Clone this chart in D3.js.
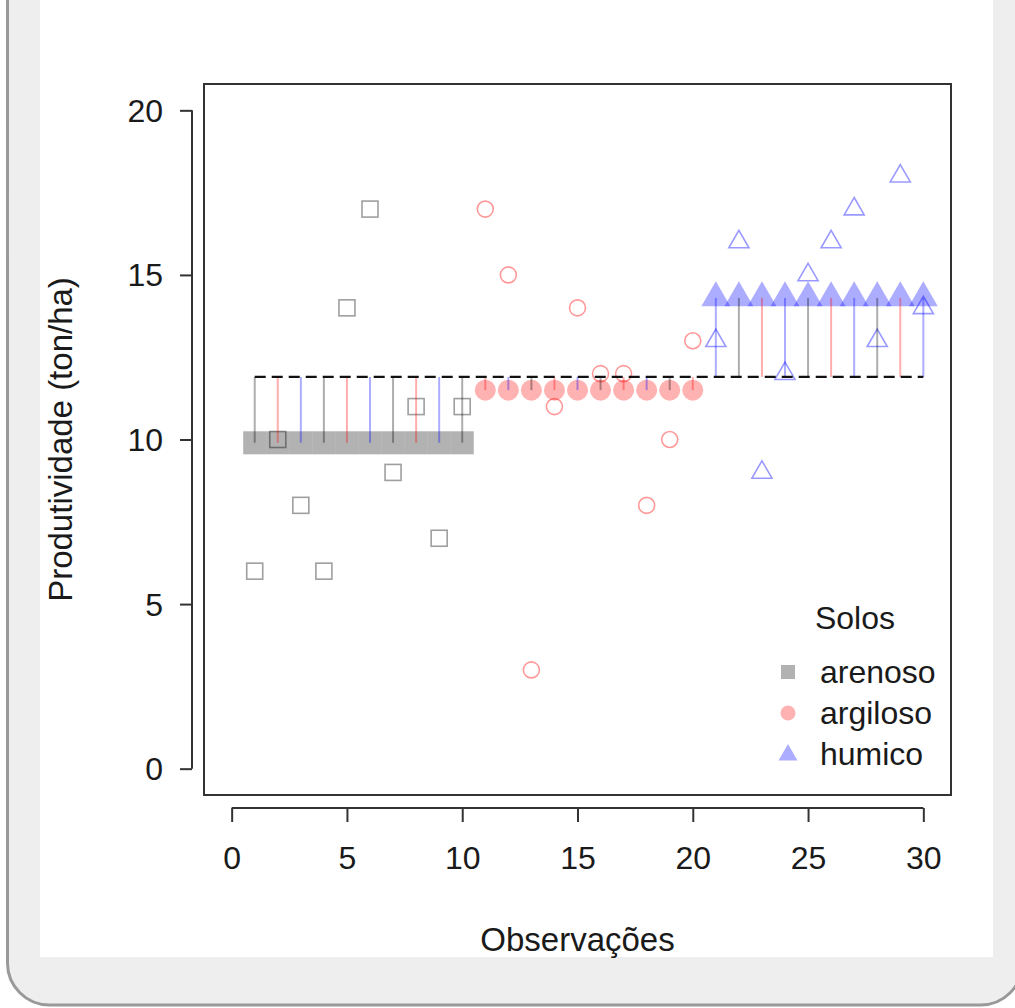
<!DOCTYPE html>
<html>
<head>
<meta charset="utf-8">
<script src="https://cdn.jsdelivr.net/npm/d3@7"></script>
<style>
  html, body { margin: 0; padding: 0; background: #ffffff; }
  svg { display: block; font-family: "Liberation Sans", Arial, Helvetica, sans-serif; }
</style>
</head>
<body>
<svg id="chart" width="1015" height="1008"></svg>
<script>
// ---- data ----
const groups = ["arenoso", "argiloso", "humico"];
const obsArenoso  = [1, 2, 3, 4, 5, 6, 7, 8, 9, 10];
const valArenoso  = [6, 10, 8, 6, 14, 17, 9, 11, 7, 11];
const obsArgiloso = [11, 12, 13, 14, 15, 16, 17, 18, 19, 20];
const valArgiloso = [17, 15, 3, 11, 14, 12, 12, 8, 10, 13];
const obsHumico   = [21, 22, 23, 24, 25, 26, 27, 28, 29, 30];
const valHumico   = [13, 16, 9, 12, 15, 16, 17, 13, 18, 14];
const xTicks = [0, 5, 10, 15, 20, 25, 30];
const yTicks = [0, 5, 10, 15, 20];
const segColors = ["rgba(0,0,0,0.32)", "rgba(255,0,0,0.32)", "rgba(0,0,255,0.32)"];
const fillColors = ["rgba(0,0,0,0.3)", "rgba(255,0,0,0.3)", "rgba(0,0,255,0.32)"];
const openColors = ["rgba(0,0,0,0.38)", "rgba(255,0,0,0.4)", "rgba(0,0,255,0.4)"];

const series = [
  { name: groups[0], obs: obsArenoso, val: valArenoso, shape: "square" },
  { name: groups[1], obs: obsArgiloso, val: valArgiloso, shape: "circle" },
  { name: groups[2], obs: obsHumico, val: valHumico, shape: "triangle" }
];
series.forEach(s => s.mean = d3.mean(s.val));
const allVals = series.flatMap(s => s.val);
const grandMean = d3.mean(allVals);

const svg = d3.select("#chart");

// ---- frame ----
svg.append("rect").attr("x", 7.5).attr("y", -60).attr("width", 1015).attr("height", 1065)
  .attr("rx", 42).attr("fill", "#eeeeee").attr("stroke", "#999").attr("stroke-width", 3);
svg.append("rect").attr("x", 40).attr("y", 0).attr("width", 953).attr("height", 957)
  .attr("fill", "#ffffff");

// ---- scales ----
const box = { left: 204, right: 951, top: 84, bottom: 795 };
const x = d3.scaleLinear().domain([-1.2, 31.2]).range([box.left, box.right]);
const y = d3.scaleLinear().domain([-0.8, 20.8]).range([box.bottom, box.top]);

// ---- box ----
svg.append("rect").attr("x", box.left).attr("y", box.top)
  .attr("width", box.right - box.left).attr("height", box.bottom - box.top)
  .attr("fill", "none").attr("stroke", "#333").attr("stroke-width", 2);

// ---- axes ----
const yAxis = svg.append("g").attr("transform", `translate(${box.left - 12},0)`)
  .call(d3.axisLeft(y).tickValues(yTicks).tickSize(12).tickSizeOuter(0).tickPadding(17));
const xAxis = svg.append("g").attr("transform", `translate(0,${box.bottom + 13})`)
  .call(d3.axisBottom(x).tickValues(xTicks).tickSize(14).tickSizeOuter(0));
// R-style axis lines only span the tick range
yAxis.select(".domain").attr("d", `M0,${y(d3.min(yTicks))}V${y(d3.max(yTicks))}`);
xAxis.select(".domain").attr("d", `M${x(d3.min(xTicks))},0H${x(d3.max(xTicks))}`);
[yAxis, xAxis].forEach(g => {
  g.select(".domain").attr("stroke", "#333").attr("stroke-width", 2);
  g.selectAll(".tick line").attr("stroke", "#333").attr("stroke-width", 2);
  g.selectAll(".tick text").attr("font-size", 32).attr("fill", "#1a1a1a")
    .attr("font-family", "Liberation Sans, Arial, sans-serif");
});
xAxis.selectAll(".tick text").attr("dy", null).attr("y", 50).attr("dominant-baseline", "central");
yAxis.selectAll(".tick text").attr("dy", null).attr("dominant-baseline", "central");

// axis titles
svg.append("text").attr("x", (box.left + box.right) / 2).attr("y", 939)
  .attr("text-anchor", "middle").attr("dominant-baseline", "central")
  .attr("font-size", 33).attr("fill", "#1a1a1a").text("Observações");
svg.append("text").attr("transform", `translate(60,${(box.top + box.bottom) / 2}) rotate(-90)`)
  .attr("text-anchor", "middle").attr("dominant-baseline", "central")
  .attr("font-size", 33).attr("fill", "#1a1a1a").text("Produtividade (ton/ha)");

// ---- symbols ----
function drawShape(g, shape, cx, cy, size, fill, stroke, sw) {
  let el;
  if (shape === "square") {
    el = g.append("rect").attr("x", cx - size / 2).attr("y", cy - size / 2)
      .attr("width", size).attr("height", size);
  } else if (shape === "circle") {
    el = g.append("circle").attr("cx", cx).attr("cy", cy).attr("r", size / 2);
  } else {
    const r = size; // distance center->apex
    const hw = r * Math.sqrt(3) / 2;
    el = g.append("path").attr("d",
      `M${cx},${cy - r} L${cx + hw},${cy + r / 2} L${cx - hw},${cy + r / 2} Z`);
  }
  el.attr("fill", fill).attr("stroke", stroke).attr("stroke-width", sw);
  return el;
}

const plot = svg.append("g");
const unit = x(1) - x(0);

// group mean markers (filled)
series.forEach((s, gi) => {
  s.obs.forEach(o => {
    if (s.shape === "square") drawShape(plot, "square", x(o), y(s.mean), unit, fillColors[gi], "none", 0);
    else if (s.shape === "circle") drawShape(plot, "circle", x(o), y(s.mean), 21, fillColors[gi], "none", 0);
    else drawShape(plot, "triangle", x(o), y(s.mean), 16.7, fillColors[gi], "none", 0);
  });
});

// observed points (open)
series.forEach((s, gi) => {
  s.obs.forEach((o, i) => {
    const v = s.val[i];
    if (s.shape === "square") drawShape(plot, "square", x(o), y(v), 16, "none", openColors[gi], 1.6);
    else if (s.shape === "circle") drawShape(plot, "circle", x(o), y(v), 16, "none", openColors[gi], 1.6);
    else drawShape(plot, "triangle", x(o), y(v), 11.6, "none", openColors[gi], 1.6);
  });
});

// segments from grand mean to group mean
series.forEach(s => {
  s.obs.forEach(o => {
    plot.append("line").attr("x1", x(o)).attr("x2", x(o))
      .attr("y1", y(grandMean)).attr("y2", y(s.mean))
      .attr("stroke", segColors[(o - 1) % 3]).attr("stroke-width", 2);
  });
});

// grand mean dashed line
plot.append("line").attr("x1", x(1)).attr("x2", x(30))
  .attr("y1", y(grandMean)).attr("y2", y(grandMean))
  .attr("stroke", "#111").attr("stroke-width", 2.2).attr("stroke-dasharray", "11,6");

// ---- legend ----
const leg = svg.append("g");
leg.append("text").attr("x", 855).attr("y", 618).attr("text-anchor", "middle")
  .attr("dominant-baseline", "central").attr("font-size", 32).attr("fill", "#1a1a1a").text("Solos");
const legY = [672, 713, 754];
series.forEach((s, gi) => {
  if (s.shape === "square") drawShape(leg, "square", 788, legY[gi], 14, fillColors[gi], "none", 0);
  else if (s.shape === "circle") drawShape(leg, "circle", 788, legY[gi], 15, fillColors[gi], "none", 0);
  else drawShape(leg, "triangle", 788, legY[gi] + 1, 11, fillColors[gi], "none", 0);
  leg.append("text").attr("x", 820).attr("y", legY[gi]).attr("dominant-baseline", "central")
    .attr("font-size", 32).attr("fill", "#1a1a1a").text(s.name);
});
</script>
</body>
</html>
